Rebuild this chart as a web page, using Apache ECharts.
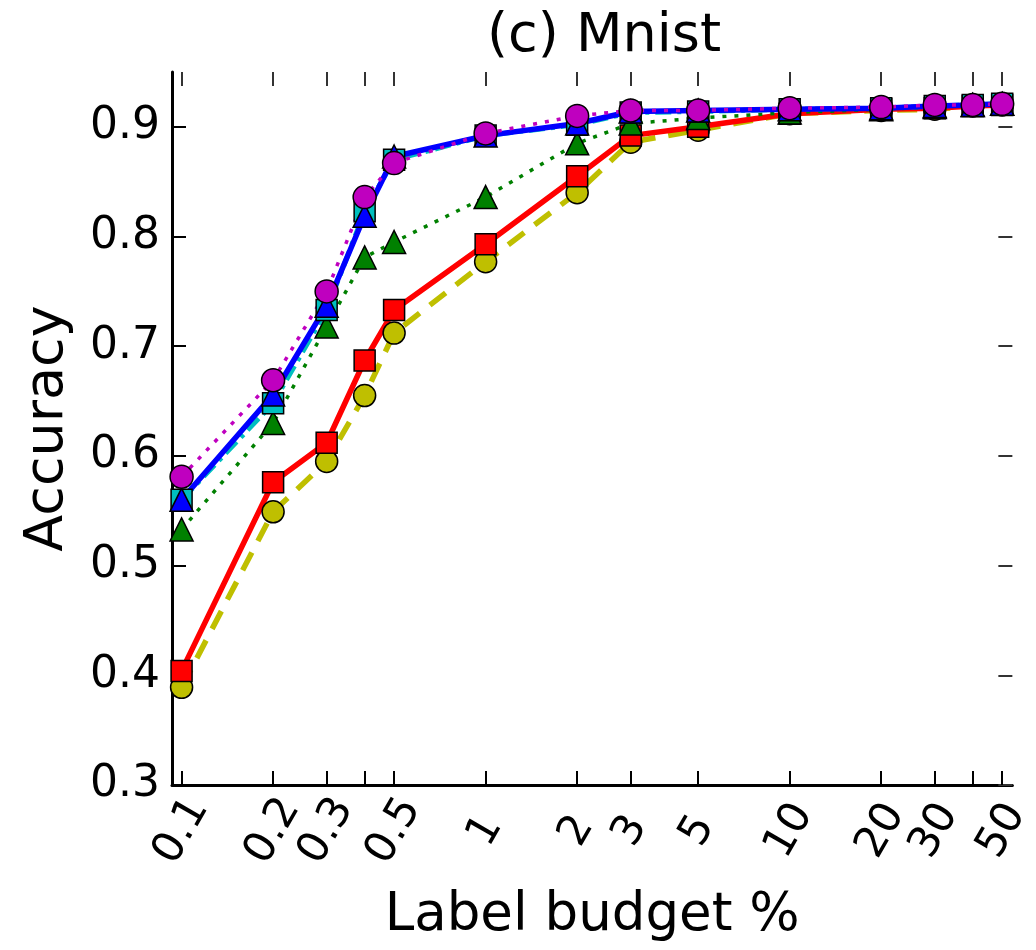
<!DOCTYPE html>
<html style="height: 100%">
<head>
<meta charset="utf-8">
</head>
<body style="height: 100%; margin: 0; background: #fff">
	<div id="container" style="width: 1036px; height: 950px"></div>

	<script src="https://cdn.jsdelivr.net/npm/echarts@6/dist/echarts.min.js"></script>
	<script type="text/javascript">
		var dom = document.getElementById("container");
		var myChart = echarts.init(dom);

		// label budget (%) on a log axis
		var budgets = [0.1, 0.2, 0.3, 0.4, 0.5, 1, 2, 3, 5, 10, 20, 30, 40, 50];
		var xTicks = [0.1, 0.2, 0.3, 0.4, 0.5, 1, 2, 3, 5, 10, 20, 30, 40, 50];
		var xLabels = [0.1, 0.2, 0.3, 0.5, 1, 2, 3, 5, 10, 20, 30, 50];
		var yTicks = [0.3, 0.4, 0.5, 0.6, 0.7, 0.8, 0.9];

		// accuracy per method
		var accYellow  = [0.389, 0.549, 0.595, 0.655, 0.712, 0.777, 0.840, 0.886, 0.897, 0.912, 0.915, 0.916, 0.919, 0.920];
		var accRed     = [0.404, 0.576, 0.612, 0.687, 0.733, 0.793, 0.855, 0.892, 0.900, 0.912, 0.916, 0.917, 0.919, 0.920];
		var accGreen   = [0.533, 0.630, 0.718, 0.781, 0.795, 0.836, 0.885, 0.903, 0.908, 0.913, 0.916, 0.918, 0.920, 0.921];
		var accCyan    = [0.560, 0.648, 0.733, 0.823, 0.870, 0.892, 0.902, 0.913, 0.914, 0.916, 0.917, 0.919, 0.920, 0.921];
		var accBlue    = [0.560, 0.656, 0.737, 0.819, 0.873, 0.892, 0.903, 0.914, 0.915, 0.916, 0.917, 0.919, 0.920, 0.921];
		var accMagenta = [0.581, 0.669, 0.750, 0.836, 0.867, 0.894, 0.910, 0.915, 0.915, 0.917, 0.918, 0.920, 0.920, 0.921];

		var FONT = 'DejaVu Sans';

		function pairs(ys) {
			var out = [];
			for (var i = 0; i < budgets.length; i++) {
				out.push([budgets[i], ys[i]]);
			}
			return out;
		}

		function makeSeries(name, ys, color, symbol, size, lineType, width) {
			return {
				name: name,
				type: 'line',
				data: pairs(ys),
				symbol: symbol,
				symbolSize: size,
				showAllSymbol: true,
				animation: false,
				lineStyle: { color: color, width: width, type: lineType },
				itemStyle: { color: color, borderColor: '#000', borderWidth: 1.5, opacity: 1 },
				emphasis: { disabled: true }
			};
		}

		var option = {
			backgroundColor: '#fff',
			animation: false,
			title: {
				text: '(c) Mnist',
				left: 599,
				textAlign: 'center',
				top: 5,
				textStyle: { fontFamily: FONT, fontSize: 54, fontWeight: 'normal', color: '#000' }
			},
			grid: { left: 172, right: 14, top: 72, bottom: 165 },
			xAxis: [{
				type: 'log',
				logBase: 10,
				min: 0.093,
				max: 54,
				name: 'Label budget %',
				nameLocation: 'middle',
				nameGap: 105,
				nameTextStyle: { fontFamily: FONT, fontSize: 53, color: '#000' },
				axisLine: { show: true, onZero: false, lineStyle: { color: '#000', width: 3 } },
				axisTick: { show: true, inside: true, length: 14, customValues: xTicks, lineStyle: { color: '#000', width: 2 } },
				axisLabel: {
					show: true,
					customValues: xLabels,
					rotate: 60,
					align: 'center',
					verticalAlign: 'middle',
					margin: 46,
					fontFamily: FONT,
					fontSize: 43,
					color: '#000',
					formatter: function (v) { return String(+(+v).toPrecision(3)); }
				},
				splitLine: { show: false },
				minorTick: { show: false }
			}, {
				type: 'log',
				logBase: 10,
				min: 0.093,
				max: 54,
				position: 'top',
				axisLine: { show: false },
				axisTick: { show: true, inside: true, length: 14, customValues: xTicks, lineStyle: { color: '#333', width: 2 } },
				axisLabel: { show: false },
				splitLine: { show: false }
			}],
			yAxis: [{
				type: 'value',
				min: 0.3,
				max: 0.95,
				name: 'Accuracy',
				nameLocation: 'middle',
				nameGap: 97,
				nameTextStyle: { fontFamily: FONT, fontSize: 54, color: '#000' },
				axisLine: { show: true, onZero: false, lineStyle: { color: '#000', width: 3 } },
				axisTick: { show: true, inside: true, length: 14, customValues: yTicks, lineStyle: { color: '#000', width: 2 } },
				axisLabel: {
					show: true,
					customValues: yTicks,
					margin: 12,
					fontFamily: FONT,
					fontSize: 44,
					color: '#000',
					formatter: function (v) { return (+v).toFixed(1); }
				},
				splitLine: { show: false }
			}, {
				type: 'value',
				min: 0.3,
				max: 0.95,
				position: 'right',
				axisLine: { show: false },
				axisTick: { show: true, inside: true, length: 14, customValues: yTicks, lineStyle: { color: '#333', width: 2 } },
				axisLabel: { show: false },
				splitLine: { show: false }
			}],
			series: [
				makeSeries('yellow', accYellow, '#bfbf00', 'circle', 22, [20, 13], 5.5),
				makeSeries('red', accRed, '#ff0000', 'rect', 21, 'solid', 5.5),
				makeSeries('green', accGreen, '#008000', 'triangle', 23, [4, 8], 3.5),
				makeSeries('cyan', accCyan, '#00bfbf', 'rect', 21, [16, 6, 4, 6], 5),
				makeSeries('blue', accBlue, '#0000ff', 'triangle', 23, 'solid', 5.5),
				makeSeries('magenta', accMagenta, '#bf00bf', 'circle', 23, [4, 8], 3.5)
			]
		};

		myChart.setOption(option);
	</script>
</body>
</html>
